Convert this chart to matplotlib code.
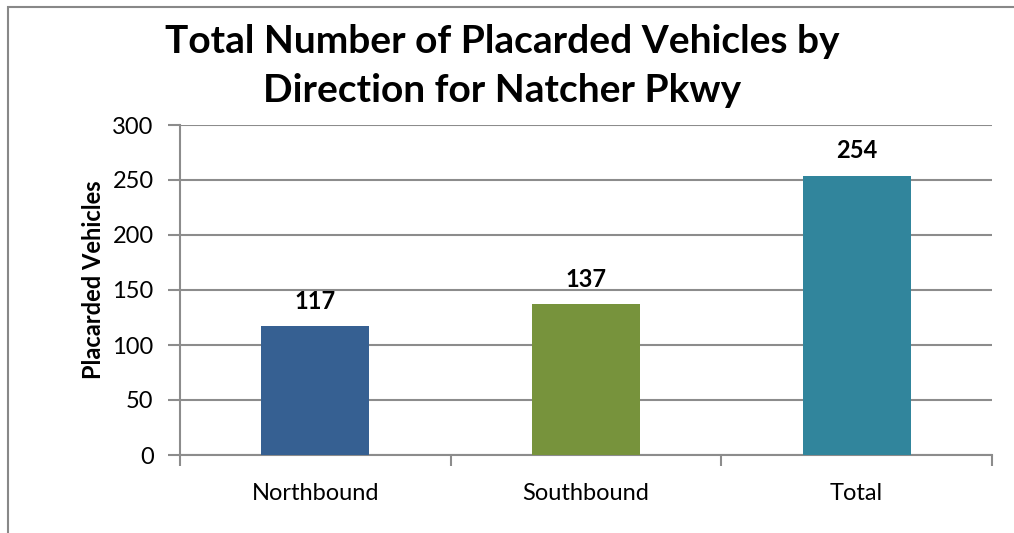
import matplotlib.pyplot as plt
from matplotlib.patches import Rectangle

# data
directions = ['Northbound', 'Southbound', 'Total']
vehicles = [117, 137, 254]
bar_colors = ['#366092', '#77933C', '#31859C']
y_ticks = [0, 50, 100, 150, 200, 250, 300]

plt.rcParams['font.family'] = ['Lato', 'DejaVu Sans']
grid_col = '#8c8c8c'

fig = plt.figure(figsize=(10.14, 5.33), dpi=100)
ax = fig.add_axes([180/1014, 1 - 455/533, (992-180)/1014, (455-125)/533])

x = list(range(len(directions)))
ax.bar(x, vehicles, width=0.40, color=bar_colors, zorder=3)
for xi, v in zip(x, vehicles):
    ax.text(xi, v + 12, str(v), ha='center', va='bottom',
            fontsize=17, fontweight='bold', zorder=4)

ax.set_xlim(-0.5, len(directions) - 0.5)
ax.set_ylim(0, 300)
ax.set_yticks(y_ticks)
ax.set_xticks(x)
ax.set_xticklabels(directions, fontsize=17)
ax.tick_params(axis='y', labelsize=17, length=9, width=1.5, color=grid_col, pad=10)
ax.tick_params(axis='x', length=0, pad=20)
# minor ticks at category boundaries
ax.set_xticks([-0.5, 0.5, 1.5, 2.5], minor=True)
ax.tick_params(axis='x', which='minor', length=8, width=1.5, color=grid_col)

ax.yaxis.grid(True, color=grid_col, linewidth=1.5, zorder=0)
ax.set_axisbelow(True)
for s in ['top', 'right']:
    ax.spines[s].set_visible(False)
for s in ['left', 'bottom']:
    ax.spines[s].set_color(grid_col)
    ax.spines[s].set_linewidth(1.5)

ax.set_ylabel('Placarded Vehicles', fontsize=17, fontweight='bold',
              va='center')
ax.yaxis.set_label_coords(-0.107, 0.53)

fig.text(502/1014, 1 - 66/533,
         'Total Number of Placarded Vehicles by\nDirection for Natcher Pkwy',
         ha='center', va='center', fontsize=28, fontweight='bold',
         linespacing=1.5)

# outer chart frame
fig.patches.append(Rectangle((8/1014, -0.5), 2, 1.5 - 7/533,
                             transform=fig.transFigure, fill=False,
                             edgecolor='#888888', linewidth=1.5))

fig.savefig('out.png', dpi=100)
